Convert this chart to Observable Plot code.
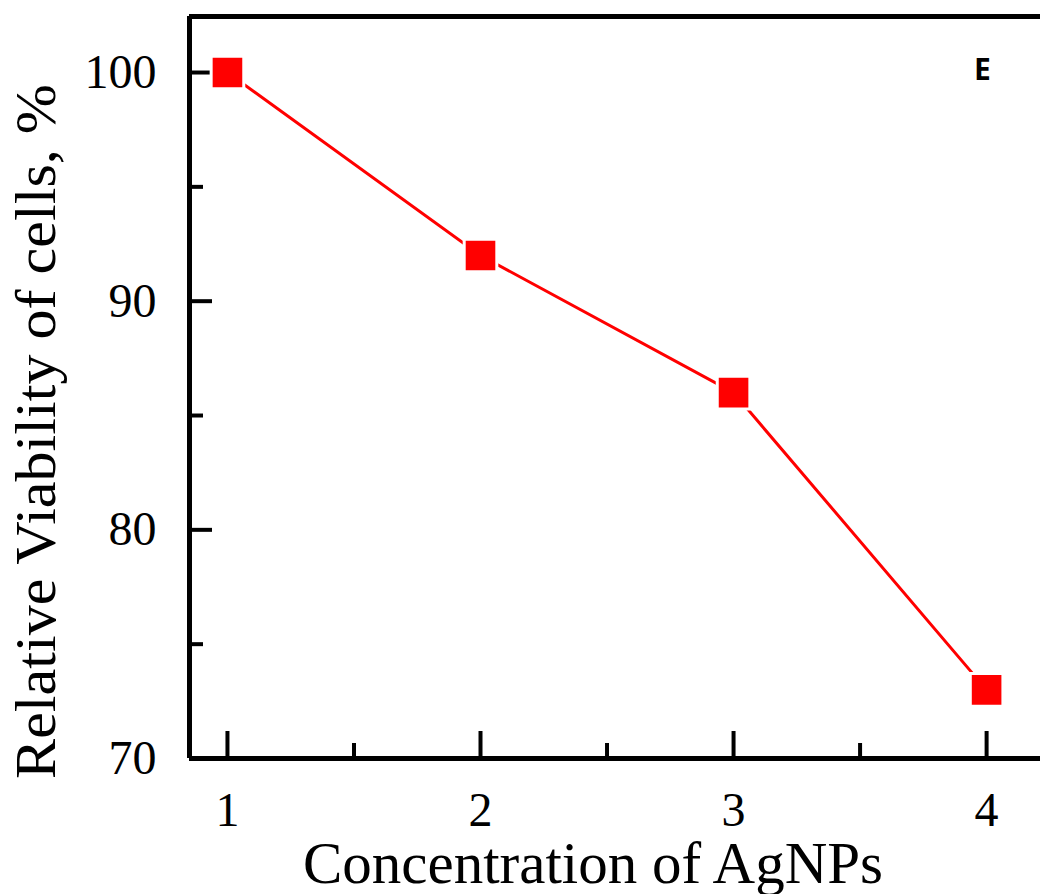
<!DOCTYPE html>
<html>
<head>
<meta charset="utf-8">
<script src="https://cdn.jsdelivr.net/npm/d3@7"></script>
<script src="https://cdn.jsdelivr.net/npm/@observablehq/plot@0.6"></script>
<style>
  html, body { margin: 0; padding: 0; background: #ffffff; }
  #chart svg { display: block; }
</style>
</head>
<body>
<div id="chart"></div>
<script>
// Data
const concentration = [1, 2, 3, 4];
const viability = [100, 92, 86, 73];
const xMajorTicks = [1, 2, 3, 4];
const xMinorTicks = [1.5, 2.5, 3.5];
const yMajorTicks = [70, 80, 90, 100];
const yMinorTicks = [75, 85, 95];
const xTitle = "Concentration of AgNPs";
const yTitle = "Relative Viability of cells, %";
const panelLabel = "E";

const xDomain = [0.85, 4.213];
const yDomain = [70, 102.45];

const data = concentration.map((c, i) => ({x: c, y: viability[i]}));
const serif = "'Liberation Serif', 'Times New Roman', serif";

const plot = Plot.plot({
  width: 1040,
  height: 894,
  marginLeft: 189,
  marginRight: 0,
  marginTop: 16,
  marginBottom: 136,
  style: {background: "#ffffff", fontFamily: serif, color: "#000"},
  x: {domain: xDomain},
  y: {domain: yDomain},
  marks: [
    // frame lines (left, bottom, top)
    Plot.ruleX([xDomain[0]], {stroke: "#000", strokeWidth: 5}),
    Plot.ruleY([yDomain[0]], {stroke: "#000", strokeWidth: 5}),
    Plot.ruleY([yDomain[1]], {stroke: "#000", strokeWidth: 5}),
    // inward ticks
    Plot.axisX(xMajorTicks, {tickSize: -27, strokeWidth: 4, text: null, label: null}),
    Plot.axisX(xMinorTicks, {tickSize: -15, strokeWidth: 4, text: null, label: null}),
    Plot.axisY(yMajorTicks, {tickSize: -23, strokeWidth: 4, text: null, label: null}),
    Plot.axisY(yMinorTicks, {tickSize: -14, strokeWidth: 4, text: null, label: null}),
    // tick labels
    Plot.axisX(xMajorTicks, {tickSize: 0, tickPadding: 33, fontSize: 48, fontFamily: serif, label: null, tickFormat: d => String(d)}),
    Plot.axisY(yMajorTicks, {tickSize: 0, tickPadding: 33, fontSize: 48, fontFamily: serif, label: null, tickFormat: d => String(d)}),
    // series
    Plot.line(data, {x: "x", y: "y", stroke: "#ff0000", strokeWidth: 3}),
    Plot.dot(data, {x: "x", y: "y", symbol: "square", r: 18.4, fill: "#ff0000", stroke: "#ffffff", strokeWidth: 3}),
    // titles
    Plot.text([xTitle], {frameAnchor: "bottom", textAnchor: "middle", dx: -22, dy: 124, fontSize: 59, fontFamily: serif, fill: "#000", lineAnchor: "bottom", className: "xtitle"}),
    Plot.text([yTitle], {frameAnchor: "left", textAnchor: "middle", rotate: -90, dx: -152, dy: 44, fontSize: 56, fontFamily: serif, fill: "#000", lineAnchor: "middle", className: "ytitle"}),
    // panel label
    Plot.text([panelLabel], {frameAnchor: "top-right", textAnchor: "middle", dx: -58, dy: 42, fontSize: 30, fontWeight: "bold", fontFamily: "'Open Sans', sans-serif", fill: "#000"})
  ]
});

document.getElementById("chart").appendChild(plot);

// stretch y title along its length to match the reference (about 695px long)
const yt = d3.select(plot).select(".ytitle text");
const node = yt.node();
if (node) {
  const len = node.getComputedTextLength();
  const k = 695 / len;
  const tr = yt.attr("transform") || "";
  yt.attr("transform", tr + ` scale(${k},1)`);
}
</script>
</body>
</html>
